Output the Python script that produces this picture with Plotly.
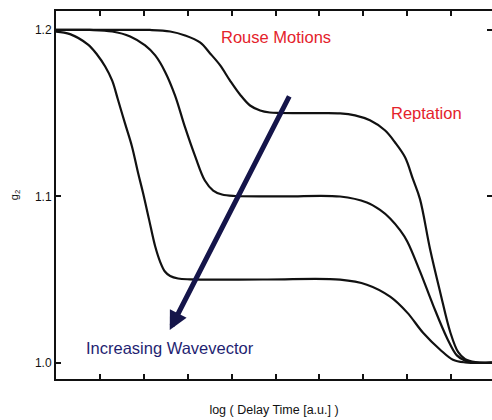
import plotly.graph_objects as go

# log(delay time), arbitrary units, and g2 for three wavevectors
x_q1 = [0.0, 1.0, 2.14, 2.60, 2.94, 3.28, 3.51, 3.74, 3.96, 4.19, 4.42, 4.65, 4.87, 5.10, 5.8,
        6.47, 6.81, 7.15, 7.49, 7.72, 7.95, 8.13, 8.29, 8.52, 8.75, 8.98, 9.16, 9.32, 9.55, 9.93]
g2_q1 = [1.2000, 1.2000, 1.2000, 1.1991, 1.1967, 1.1925, 1.1859, 1.1787, 1.1697, 1.1612, 1.1546,
         1.1516, 1.1504, 1.1501, 1.1500,
         1.1499, 1.1487, 1.1457, 1.1397, 1.1325, 1.1235, 1.1103, 1.0983, 1.0682, 1.0424, 1.0183,
         1.0063, 1.0021, 1.0003, 1.0000]

x_q2 = [0.0, 0.77, 1.28, 1.69, 2.03, 2.26, 2.48, 2.71, 2.94, 3.17, 3.39, 3.58, 3.78, 4.08, 5.2,
        6.47, 7.08, 7.38, 7.61, 7.84, 8.00, 8.29, 8.59, 8.91, 9.13, 9.32, 9.55, 9.93]
g2_q2 = [1.2000, 1.2000, 1.1991, 1.1961, 1.1907, 1.1847, 1.1751, 1.1607, 1.1414, 1.1240, 1.1095,
         1.1035, 1.1011, 1.1002, 1.1000,
         1.0999, 1.0963, 1.0918, 1.0867, 1.0795, 1.0729, 1.0549, 1.0345, 1.0146, 1.0044, 1.0012,
         1.0001, 1.0000]

x_q3 = [0.0, 0.32, 0.73, 0.93, 1.12, 1.28, 1.41, 1.57, 1.73, 1.87, 1.98, 2.12, 2.26, 2.37, 2.48,
        2.60, 2.78, 3.05, 4.8,
        6.47, 7.08, 7.61, 8.00, 8.36, 8.75, 9.04, 9.32, 9.93]
g2_q3 = [1.1990, 1.1975, 1.1912, 1.1854, 1.1780, 1.1695, 1.1582, 1.1440, 1.1300, 1.1140, 1.1023,
         1.0860, 1.0698, 1.0608, 1.0548, 1.0521, 1.0506, 1.0501, 1.0500,
         1.0499, 1.0469, 1.0397, 1.0301, 1.0180, 1.0078, 1.0018, 1.0002, 1.0000]

y_ticks = [1.0, 1.1, 1.2]
y_tick_text = ["1.0", "1.1", "1.2"]
x_ticks = [1, 2, 3, 4, 5, 6, 7, 8, 9]

x_range = [0, 9.93]
y_range = [0.9902, 1.2114]

# wavevector arrow: tail and head in data units
arrow_tail = (5.33, 1.161)
arrow_head = (2.59, 1.0196)

fig = go.Figure()
for xs, ys in [(x_q1, g2_q1), (x_q2, g2_q2), (x_q3, g2_q3)]:
    fig.add_trace(go.Scatter(
        x=xs, y=ys, mode="lines",
        line=dict(color="#111111", width=2.2, shape="spline", smoothing=1.0),
        showlegend=False, hoverinfo="skip",
    ))

# invisible trace bound to the right-hand axis so its ticks are drawn
fig.add_trace(go.Scatter(x=[None], y=[None], yaxis="y2", showlegend=False))

fig.add_annotation(
    x=arrow_head[0], y=arrow_head[1], ax=arrow_tail[0], ay=arrow_tail[1],
    xref="x", yref="y", axref="x", ayref="y",
    showarrow=True, arrowhead=2, arrowsize=0.75, arrowwidth=5,
    arrowcolor="#15154a", text="",
)

text_font = dict(family="Liberation Sans, Arial, sans-serif", size=16.5)
fig.add_annotation(x=5.0, y=1.2, yshift=-7, text="Rouse Motions", showarrow=False,
                   font=dict(text_font, color="#e4222b"))
fig.add_annotation(x=8.43, y=1.15, yshift=0, text="Reptation", showarrow=False,
                   font=dict(text_font, color="#e4222b"))
fig.add_annotation(x=2.60, y=1.0, yshift=15, text="Increasing Wavevector", showarrow=False,
                   font=dict(text_font, color="#1f1f72"))

axis_common = dict(showgrid=False, zeroline=False, showline=True, linecolor="#111111",
                   linewidth=2, ticks="inside", ticklen=5, tickwidth=1.5, tickcolor="#111111")

fig.update_layout(
    width=492, height=420,
    margin=dict(l=56, r=0, t=11, b=41),
    paper_bgcolor="white", plot_bgcolor="white",
    font=dict(family="Liberation Sans, Arial, sans-serif", color="#111111", size=12),
    xaxis=dict(axis_common, range=x_range, tickvals=x_ticks, showticklabels=False,
               mirror="ticks",
               title=dict(text="log ( Delay Time [a.u.] )", font=dict(size=12.5), standoff=25)),
    yaxis=dict(axis_common, range=y_range, tickvals=y_ticks, ticktext=y_tick_text,
               tickfont=dict(size=12), mirror=False,
               title=dict(text="g<sub>2</sub>", font=dict(size=11), standoff=14)),
    yaxis2=dict(overlaying="y", side="right", range=y_range, tickvals=y_ticks,
                showticklabels=False, showgrid=False, zeroline=False, showline=False,
                ticks="inside", ticklen=5, tickwidth=1.5, tickcolor="#111111"),
)

fig.write_html("out.html")
